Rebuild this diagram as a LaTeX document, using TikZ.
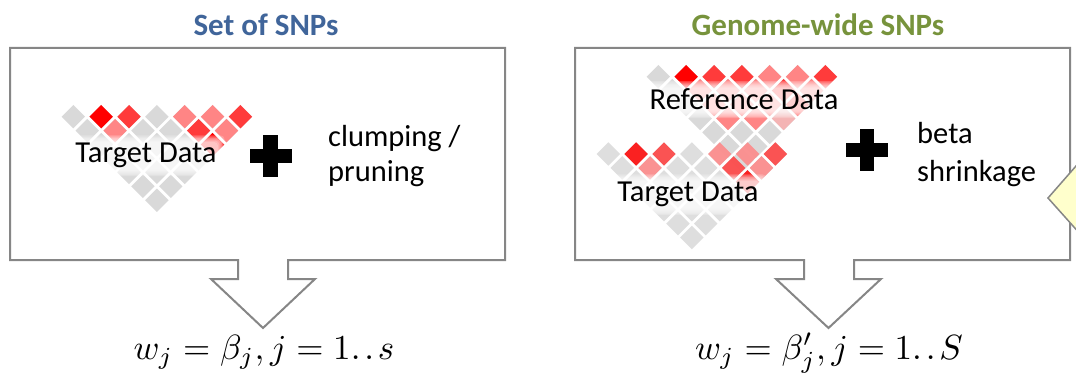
\documentclass[tikz,border=0pt]{standalone}
\usepackage[no-math]{fontspec}
\setmainfont{Carlito}
\usetikzlibrary{calc}

\definecolor{ldgray}{HTML}{D9D9D9}
\definecolor{ldred}{HTML}{FF0000}
\definecolor{ldmid}{HTML}{FF3B3B}
\definecolor{ldpink}{HTML}{FF8585}
\definecolor{ldlight}{HTML}{F4B4B4}
\definecolor{framegray}{HTML}{868686}
\definecolor{titleblue}{HTML}{40659A}
\definecolor{titlegreen}{HTML}{77933C}
\definecolor{notefill}{HTML}{FFFFCC}

\tikzset{
  panel/.style={draw=framegray, line width=2pt, fill=white, line join=miter},
  heading/.style={font=\fontsize{31}{36}\selectfont\bfseries, anchor=base, inner sep=0pt},
  body/.style={font=\fontsize{30.5}{35}\selectfont, anchor=base west, inner sep=0pt},
  datalbl/.style={font=\fontsize{30.5}{35}\selectfont, anchor=base, inner sep=0pt},
  formula/.style={font=\normalsize, scale=3.5, anchor=base, inner sep=0pt},
}

% one cell of an LD triangle: centre x, centre y, colour
\newcommand\ldcell[3]{%
  \fill[#3] ({#1},{#2}) +(-11.7,0) -- +(0,-11.7) -- +(11.7,0) -- +(0,11.7) -- cycle;}

% LD triangle of 7 SNPs: top-left cell centre (#1,#2); #3 = coloured cells row/col/colour
\newcommand\ldgrid[3]{%
  \foreach \r in {0,...,6}{%
    \pgfmathtruncatemacro\nlast{6-\r}%
    \foreach \k in {0,...,\nlast}{%
      \ldcell{#1+27.85*(\k+\r/2)}{#2+13.925*\r}{ldgray}}}%
  \foreach \r/\k/\c in {#3}{%
    \ldcell{#1+27.85*(\k+\r/2)}{#2+13.925*\r}{\c}}}

% label with a soft white glow behind it: name, position, text
\newcommand\glowlabel[3]{%
  \node[datalbl] (#1-area) at (#2) {\phantom{#3}};
  \foreach \i in {1,...,6}{%
    \fill[white, fill opacity=.22, rounded corners=4pt]
      ([shift={(-\i*1.3,\i*1.3)}]#1-area.south west) rectangle
      ([shift={(\i*1.3,-\i*1.3)}]#1-area.north east);}
  \node[datalbl] (#1) at (#2) {#3};}

\newcommand\plussign[1]{%
  \fill (#1) +(-21,-7.3) rectangle +(21,7.3);
  \fill (#1) +(-7.2,-21) rectangle +(7.2,21);}

\begin{document}
\begin{tikzpicture}[x=1pt, y=-1pt]
\useasboundingbox (0,0) rectangle (1076,382);
\clip (0,0) rectangle (1076,382);

% panels with downward arrow
\draw[panel] (10,48) -- (505,48) -- (505,260) -- (288,260) -- (288,279) -- (315,279)
  -- (263,328) -- (211,279) -- (238,279) -- (238,260) -- (10,260) -- cycle;
\draw[panel] (575,48) -- (1070,48) -- (1070,260) -- (854,260) -- (854,279) -- (881,279)
  -- (828.5,328) -- (776,279) -- (804,279) -- (804,260) -- (575,260) -- cycle;

% LD triangles
\ldgrid{73.3}{116.7}{0/1/ldred,0/2/ldmid,0/4/ldpink,0/5/ldpink,0/6/ldmid,
  1/1/ldpink,1/4/ldmid,1/5/ldpink,2/4/ldred}
\ldgrid{658.3}{76.7}{0/1/ldred,0/2/ldmid,0/3/ldmid,0/4/ldpink,0/5/ldpink,0/6/ldmid,
  1/1/ldpink,1/2/ldpink,1/3/ldpink,1/4/ldmid,1/5/ldpink,
  2/1/ldpink,2/2/ldpink,2/3/ldpink,2/4/ldmid,
  3/1/ldpink,3/2/ldpink,3/3/ldlight}
\begin{scope}[fill opacity=0.85]
\ldgrid{608.3}{154}{0/1/ldred,0/2/ldmid,0/4/ldpink,0/5/ldpink,0/6/ldmid,
  1/1/ldpink,1/4/ldmid,1/5/ldpink,2/4/ldred}
\end{scope}

% data labels
\glowlabel{tgtL}{146,163}{Target Data}
\glowlabel{refR}{744,110}{Reference Data}
\glowlabel{tgtR}{688,202}{Target Data}

% plus signs
\coordinate (plusL) at (270.5,156);
\coordinate (plusR) at (866.7,150);
\plussign{plusL}
\plussign{plusR}

% method texts
\node[body] (clump) at (328,147) {clumping /};
\node[body] (prune) at (328,182) {pruning};
\node[body] (beta) at (917,144) {beta};
\node[body] (shrink) at (917,182) {shrinkage};

% headings
\node[heading, text=titleblue] (headL) at (266,36) {Set of SNPs};
\node[heading, text=titlegreen] (headR) at (818,36) {Genome-wide SNPs};

% weights
\node[formula] (wL) at (264,359) {$w_j = \beta_j, j = 1.\mkern2mu.\mkern2mu s$};
\node[formula] (wR) at (829,359) {$w_j = \beta'_j, j = 1.\mkern2mu.\mkern2mu S$};

% edge of a neighbouring callout
\draw[draw=framegray, line width=1.5pt, fill=notefill] (1090,150) -- (1048,198) -- (1090,245);
\end{tikzpicture}
\end{document}
